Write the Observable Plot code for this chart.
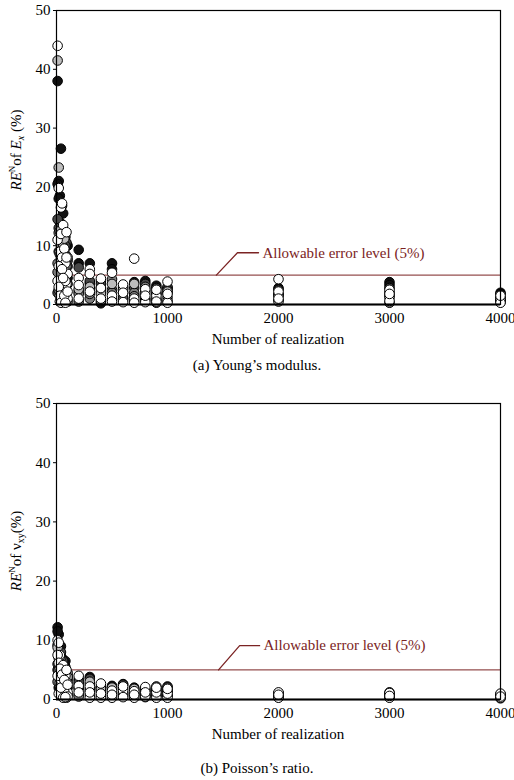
<!DOCTYPE html>
<html>
<head>
<meta charset="utf-8">
<script src="https://cdn.jsdelivr.net/npm/d3@7"></script>
<script src="https://cdn.jsdelivr.net/npm/@observablehq/plot@0.6"></script>
<style>
  html, body { margin: 0; padding: 0; background: #fff; }
  #wrap { width: 514px; font-family: "Liberation Serif", "Times New Roman", Tinos, "DejaVu Serif", serif; color: #000; }
  .cap { width: 514px; text-align: center; font-size: 15px; }
  svg { display: block; overflow: visible; }
  svg text { font-family: "Liberation Serif", "Times New Roman", Tinos, "DejaVu Serif", serif; }
</style>
</head>
<body>
<div id="wrap">
  <div id="chartA"></div>
  <div class="cap" style="height:30px;line-height:30px;">(a) Young’s modulus.</div>
  <div id="chartB"></div>
  <div class="cap" style="height:46px;line-height:46px;">(b) Poisson’s ratio.</div>
</div>
<script>
// Number of realizations (x positions)
const realizations = [10,20,30,40,50,60,70,80,90,100,200,300,400,500,600,700,800,900,1000,2000,3000,4000];
const xTicks = [0, 1000, 2000, 3000, 4000];
const yTicks = [0, 10, 20, 30, 40, 50];

// Shades of the markers (one per sample set, in drawing order)
const shadeNames = ["black", "black", "dark", "dark", "gray", "gray", "light", "white", "white", "white"];
const shadeColors = { black: "#111111", dark: "#474747", gray: "#7e7e7e", light: "#bdbdbd", white: "#ffffff" };

// (a) RE^N of Ex (%) — one array per sample set
const exSet1 = [38, 21, 18.5, 26.5, 16.8, 15.5, 9.5, 6.0, 4.0, 10.0, 9.3, 7.0, 4.0, 7.0, 3.0, 3.8, 4.0, 3.2, 2.8, 2.8, 3.8, 2.0];
const exSet2 = [20.5, 18.0, 14.0, 3.5, 9.0, 5.5, 2.5, 1.5, 0.8, 4.5, 7.0, 3.6, 0.2, 6.0, 1.0, 1.6, 1.0, 0.8, 2.0, 1.6, 3.3, 1.8];
const exSet3 = [14.5, 9.0, 4.5, 5.0, 2.0, 7.0, 11.0, 11.5, 10.5, 6.5, 6.3, 4.0, 3.5, 2.5, 2.0, 2.8, 3.5, 2.8, 3.0, 1.8, 2.0, 1.2];
const exSet4 = [2.0, 13.0, 2.8, 9.0, 4.0, 1.0, 5.0, 10.0, 1.8, 7.5, 2.2, 2.6, 2.8, 0.8, 2.5, 0.6, 0.8, 1.8, 2.5, 2.5, 2.8, 0.9];
const exSet5 = [7.0, 12.2, 5.5, 10.0, 1.5, 12.0, 3.5, 8.5, 6.5, 3.5, 1.8, 1.0, 2.2, 4.3, 1.2, 2.0, 3.0, 2.0, 1.2, 1.5, 0.3, 0.8];
const exSet6 = [5.5, 2.5, 8.5, 1.0, 11.5, 0.8, 7.5, 2.8, 5.0, 0.5, 0.5, 1.8, 0.6, 2.0, 0.8, 1.4, 2.4, 0.3, 0.6, 0.8, 1.5, 0.4];
const exSet7 = [41.5, 23.3, 12.5, 7.5, 3.0, 9.8, 11.2, 5.5, 2.5, 8.0, 2.6, 3.0, 1.8, 3.5, 2.8, 3.5, 2.0, 1.0, 2.2, 0.5, 1.2, 0.6];
const exSet8 = [44, 19.8, 9.0, 16.5, 8.0, 13.5, 6.0, 7.0, 3.5, 5.2, 4.5, 6.0, 4.4, 5.4, 3.4, 7.8, 2.6, 1.5, 3.9, 4.3, 2.5, 1.0];
const exSet9 = [11, 6.5, 0.5, 12.0, 17.2, 2.0, 9.5, 4.0, 12.3, 1.0, 3.3, 5.2, 2.8, 1.5, 0.4, 1.0, 0.4, 0.5, 0.3, 2.2, 0.6, 0.3];
const exSet10 = [4.0, 3.0, 1.5, 0.3, 6.0, 4.5, 1.5, 0.3, 8.0, 2.2, 1.0, 2.2, 1.0, 0.5, 2.0, 0.3, 1.5, 2.5, 1.8, 1.0, 1.8, 1.5];

// (b) RE^N of nu_xy (%)
const nuSet1 = [12.2, 11.0, 8.0, 7.2, 7.0, 5.0, 6.0, 3.8, 3.5, 4.0, 3.4, 3.8, 2.0, 2.3, 2.6, 2.0, 1.8, 1.9, 2.2, 0.5, 0.4, 0.7];
const nuSet2 = [11.5, 2.0, 1.5, 9.0, 1.2, 1.0, 0.8, 6.5, 1.0, 2.0, 2.6, 1.8, 0.6, 2.0, 0.8, 1.6, 1.0, 1.4, 0.6, 1.0, 0.5, 0.4];
const nuSet3 = [6.0, 8.0, 4.0, 5.5, 3.5, 6.5, 2.5, 5.5, 2.0, 3.0, 3.0, 3.5, 2.2, 1.7, 2.5, 1.0, 1.4, 2.2, 1.3, 1.1, 1.2, 0.9];
const nuSet4 = [5.0, 4.2, 1.0, 8.0, 3.0, 2.5, 4.0, 1.0, 0.6, 3.5, 2.0, 1.4, 1.6, 1.0, 0.6, 0.9, 0.6, 0.6, 1.6, 0.7, 0.8, 0.6];
const nuSet5 = [9.2, 3.0, 6.8, 1.5, 5.5, 3.0, 5.5, 2.5, 4.0, 4.5, 0.8, 2.6, 1.4, 1.2, 1.8, 1.2, 0.8, 1.6, 2.0, 0.9, 0.8, 0.8];
const nuSet6 = [3.0, 7.0, 2.2, 4.0, 1.8, 4.5, 1.0, 2.0, 2.6, 0.8, 0.5, 0.8, 2.0, 0.6, 1.2, 0.6, 0.4, 1.0, 0.8, 0.4, 0.6, 0.2];
const nuSet7 = [8.8, 5.0, 3.5, 6.5, 2.5, 4.0, 2.0, 3.0, 1.8, 3.8, 1.8, 3.0, 1.8, 2.0, 1.0, 1.8, 1.6, 0.8, 1.5, 0.6, 0.9, 0.6];
const nuSet8 = [10.0, 9.6, 7.5, 4.8, 6.0, 2.0, 4.8, 1.5, 3.0, 1.2, 4.0, 2.2, 2.7, 0.3, 1.5, 0.3, 2.1, 0.3, 0.3, 1.2, 0.3, 1.0];
const nuSet9 = [7.5, 6.2, 2.8, 3.3, 0.8, 5.8, 1.3, 4.0, 0.3, 0.5, 2.3, 0.3, 0.3, 1.5, 0.4, 1.4, 0.5, 1.2, 1.0, 0.3, 1.1, 0.3];
const nuSet10 = [4.0, 1.0, 5.2, 2.0, 4.2, 0.3, 3.3, 0.4, 5.0, 2.5, 1.2, 1.2, 1.0, 0.8, 2.2, 0.8, 1.2, 2.0, 1.8, 0.8, 0.6, 0.5];

// Allowable error level annotation
const allowLevel = 5;
const allowSpan = [0, 4000];
const allowText = "Allowable error level (5%)";
const leaderA = [[1440, 5], [1630, 8.8], [1820, 8.8]];
const leaderB = [[1460, 5], [1650, 9.1], [1830, 9.1]];
const textPosA = [1855, 8.8];
const textPosB = [1865, 9.1];

const xLabel = "Number of realization";

function buildPoints(sets) {
  const pts = [];
  sets.forEach((vals, i) => {
    vals.forEach((v, j) => pts.push({ n: realizations[j], re: v, shade: shadeNames[i] }));
  });
  return pts;
}

const red = "#7b2323";
const font = "'Liberation Serif', 'Times New Roman', Tinos, 'DejaVu Serif', serif";

function makeChart(sets, leader, textPos, marginTop, innerH, yLabelParts, yLabelCenter) {
  const pts = buildPoints(sets);
  const height = marginTop + innerH + 46;
  const chart = Plot.plot({
    width: 514,
    height,
    marginLeft: 56,
    marginRight: 14,
    marginTop,
    marginBottom: 46,
    style: { fontFamily: font, fontSize: "15px", background: "#fff", color: "#000", overflow: "visible" },
    x: { domain: [0, 4000], ticks: xTicks, tickFormat: d => String(d), tickSize: 0, tickPadding: 8, label: null },
    y: { domain: [0, 50], ticks: yTicks, tickSize: 3, tickPadding: 3, label: null },
    marks: [
      Plot.line(allowSpan.map(x => [x, allowLevel]), { x: d => d[0], y: d => d[1], stroke: red, strokeWidth: 1 }),
      Plot.line(leader, { x: d => d[0], y: d => d[1], stroke: red, strokeWidth: 1.3 }),
      Plot.text([allowText], { x: () => textPos[0], y: () => textPos[1], text: d => d, textAnchor: "start", fill: red, fontSize: 15, fontFamily: font }),
      Plot.dot(pts, { x: "n", y: "re", r: 4.8, fill: d => shadeColors[d.shade], stroke: "#000", strokeWidth: 1 }),
      Plot.frame({ stroke: "#000", strokeWidth: 1.2 }),
      Plot.ruleY([0], { stroke: "#000", strokeWidth: 2 })
    ]
  });
  const svg = d3.select(chart);
  const bottom = height - 46;
  svg.append("text")
    .attr("x", 56 + 222).attr("y", bottom + 40)
    .attr("text-anchor", "middle")
    .attr("font-family", font).attr("font-size", 15).attr("fill", "#000")
    .text(xLabel);
  const t = svg.append("text")
    .attr("transform", `translate(21, ${yLabelCenter}) rotate(-90)`)
    .attr("text-anchor", "middle")
    .attr("font-family", font).attr("font-size", 15).attr("fill", "#000");
  yLabelParts.forEach(p => {
    const ts = t.append("tspan").text(p.t);
    if (p.italic) ts.attr("font-style", "italic");
    if (p.dy) ts.attr("dy", p.dy);
    if (p.size) ts.attr("font-size", p.size);
  });
  return chart;
}

const labelA = [
  { t: "RE", italic: true },
  { t: "N", size: 9, dy: -6 },
  { t: "of ", dy: 6 },
  { t: "E", italic: true },
  { t: "x", italic: true, size: 10, dy: 3 },
  { t: " (%)", dy: -3 }
];
const labelB = [
  { t: "RE", italic: true },
  { t: "N", size: 9, dy: -6 },
  { t: "of ", dy: 6 },
  { t: "ν" },
  { t: "xy", size: 10, dy: 3 },
  { t: "(%)", dy: -3 }
];

document.getElementById("chartA").appendChild(
  makeChart([exSet1, exSet2, exSet3, exSet4, exSet5, exSet6, exSet7, exSet8, exSet9, exSet10], leaderA, textPosA, 10, 294, labelA, 150)
);
document.getElementById("chartB").appendChild(
  makeChart([nuSet1, nuSet2, nuSet3, nuSet4, nuSet5, nuSet6, nuSet7, nuSet8, nuSet9, nuSet10], leaderB, textPosB, 23, 296, labelB, 171)
);
</script>
</body>
</html>
